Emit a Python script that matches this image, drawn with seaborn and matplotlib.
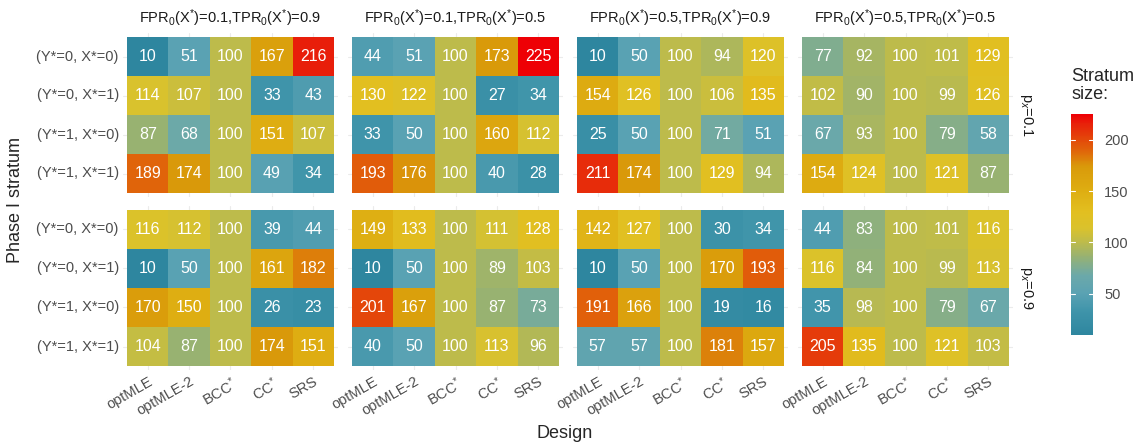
import numpy as np
import pandas as pd
import matplotlib
matplotlib.use("Agg")
import matplotlib.pyplot as plt
import seaborn as sns
from matplotlib.colors import LinearSegmentedColormap

# ---- data -------------------------------------------------------------
designs = ["optMLE", "optMLE-2", "BCC*", "CC*", "SRS"]
design_labels = ["optMLE", "optMLE-2", r"BCC$^{*}$", r"CC$^{*}$", "SRS"]
strata = ["(Y*=0, X*=0)", "(Y*=0, X*=1)", "(Y*=1, X*=0)", "(Y*=1, X*=1)"]
scenarios = [
    r"FPR$_0$(X$^{*}$)=0.1,TPR$_0$(X$^{*}$)=0.9",
    r"FPR$_0$(X$^{*}$)=0.1,TPR$_0$(X$^{*}$)=0.5",
    r"FPR$_0$(X$^{*}$)=0.5,TPR$_0$(X$^{*}$)=0.9",
    r"FPR$_0$(X$^{*}$)=0.5,TPR$_0$(X$^{*}$)=0.5",
]
prevalence = [r"p$_x$=0.1", r"p$_x$=0.9"]

# stratum sizes: rows = strata, columns = designs
px01_s1 = [[10, 51, 100, 167, 216], [114, 107, 100, 33, 43],
           [87, 68, 100, 151, 107], [189, 174, 100, 49, 34]]
px01_s2 = [[44, 51, 100, 173, 225], [130, 122, 100, 27, 34],
           [33, 50, 100, 160, 112], [193, 176, 100, 40, 28]]
px01_s3 = [[10, 50, 100, 94, 120], [154, 126, 100, 106, 135],
           [25, 50, 100, 71, 51], [211, 174, 100, 129, 94]]
px01_s4 = [[77, 92, 100, 101, 129], [102, 90, 100, 99, 126],
           [67, 93, 100, 79, 58], [154, 124, 100, 121, 87]]
px09_s1 = [[116, 112, 100, 39, 44], [10, 50, 100, 161, 182],
           [170, 150, 100, 26, 23], [104, 87, 100, 174, 151]]
px09_s2 = [[149, 133, 100, 111, 128], [10, 50, 100, 89, 103],
           [201, 167, 100, 87, 73], [40, 50, 100, 113, 96]]
px09_s3 = [[142, 127, 100, 30, 34], [10, 50, 100, 170, 193],
           [191, 166, 100, 19, 16], [57, 57, 100, 181, 157]]
px09_s4 = [[44, 83, 100, 101, 116], [116, 84, 100, 99, 113],
           [35, 98, 100, 79, 67], [205, 135, 100, 121, 103]]

panels = [[px01_s1, px01_s2, px01_s3, px01_s4],
          [px09_s1, px09_s2, px09_s3, px09_s4]]

# long-form table
records = []
for r, row in enumerate(panels):
    for c, mat in enumerate(row):
        for i, st in enumerate(strata):
            for j, d in enumerate(designs):
                records.append(dict(prev=r, scen=c, stratum=st, design=d, n=mat[i][j]))
df = pd.DataFrame(records)

# ---- styling ----------------------------------------------------------
sns.set_theme(style="white")
plt.rcParams["font.family"] = ["Liberation Sans", "DejaVu Sans"]
plt.rcParams["mathtext.fontset"] = "custom"
plt.rcParams["mathtext.rm"] = "Liberation Sans"
plt.rcParams["mathtext.it"] = "Liberation Sans:italic"
plt.rcParams["mathtext.bf"] = "Liberation Sans:bold"

vmin, vmax = 10, 225
nodes = [(10, "#2E869F"), (33, "#3F94AA"), (50, "#5AA2B3"), (68, "#6CA9A9"),
         (87, "#99B270"), (100, "#BDBB4B"), (114, "#DAC22C"), (130, "#E2BF20"),
         (150, "#DEAE12"), (174, "#D99A0A"), (189, "#E0660A"), (216, "#E8200A"),
         (225, "#EE0005")]
cmap = LinearSegmentedColormap.from_list(
    "stratum", [((v - vmin) / (vmax - vmin), c) for v, c in nodes])

W, H = 1146, 447
fig = plt.figure(figsize=(W / 100, H / 100), dpi=100)

def px_axes(x0, y0, x1, y1):
    return fig.add_axes([x0 / W, 1 - y1 / H, (x1 - x0) / W, (y1 - y0) / H])

lefts = [127, 352, 577, 802]
pw = 207
tops = [37, 210]
ph = 156
ex, ey = 4 / (pw / 5), 4 / (ph / 4)
tick_fs = 10.5

for r in range(2):
    for c in range(4):
        x0, y0 = lefts[c], tops[r]
        ax = px_axes(x0 - 4, y0 - 4, x0 + pw + 4, y0 + ph + 4)
        sub = df[(df.prev == r) & (df.scen == c)]
        mat = sub.pivot(index="stratum", columns="design", values="n").loc[strata, designs]
        for k in range(5):
            ax.axvline(k + 0.5, color="#EBEBEB", lw=0.8, zorder=0)
        for k in range(4):
            ax.axhline(k + 0.5, color="#EBEBEB", lw=0.8, zorder=0)
        sns.heatmap(mat, ax=ax, cmap=cmap, vmin=vmin, vmax=vmax, cbar=False,
                    annot=True, fmt="d", linewidths=0,
                    annot_kws=dict(color="white", fontsize=11.5))
        ax.set_xlim(-ex, 5 + ex)
        ax.set_ylim(4 + ey, -ey)
        for sp in ax.spines.values():
            sp.set_visible(False)
        ax.set_xlabel("")
        ax.set_ylabel("")
        ax.tick_params(length=0, pad=3, labelsize=tick_fs, labelcolor="#4D4D4D")
        ax.set_xticks(np.arange(5) + 0.5)
        if r == 1:
            ax.set_xticklabels(design_labels, rotation=30, ha="right",
                               rotation_mode="anchor")
        else:
            ax.set_xticklabels([])
        if c == 0:
            ax.set_yticks(np.arange(4) + 0.5)
            ax.set_yticklabels(strata, rotation=0)
        else:
            ax.set_yticks([])
        if r == 0:
            ax.set_title(scenarios[c], fontsize=tick_fs, color="#1A1A1A", pad=7)
        if c == 3:
            ax.text(1.0 + 14 / (pw + 8), 0.5, prevalence[r], transform=ax.transAxes,
                    rotation=-90, ha="center", va="center", fontsize=tick_fs,
                    color="#1A1A1A")

# colour bar
cax = px_axes(1071, 114, 1093, 335)
sm = matplotlib.cm.ScalarMappable(norm=matplotlib.colors.Normalize(vmin, vmax), cmap=cmap)
cb = fig.colorbar(sm, cax=cax)
cb.outline.set_visible(False)
cb.set_ticks([50, 100, 150, 200])
cax.tick_params(length=0, labelsize=tick_fs, labelcolor="#4D4D4D", pad=8)
for t in [50, 100, 150, 200]:
    cax.plot([0, 0.2], [t, t], color="white", lw=0.8, transform=cax.get_yaxis_transform())
    cax.plot([0.8, 1], [t, t], color="white", lw=0.8, transform=cax.get_yaxis_transform())
fig.text(1071 / W, 1 - 68 / H, "Stratum\nsize:", ha="left", va="top", fontsize=13,
         linespacing=1.05)

# axis titles
fig.text(565 / W, 1 - 434 / H, "Design", ha="center", va="center", fontsize=13)
fig.text(16 / W, 1 - 200 / H, "Phase I stratum", ha="center", va="center",
         rotation=90, fontsize=13)

fig.savefig("out.png", dpi=100)
